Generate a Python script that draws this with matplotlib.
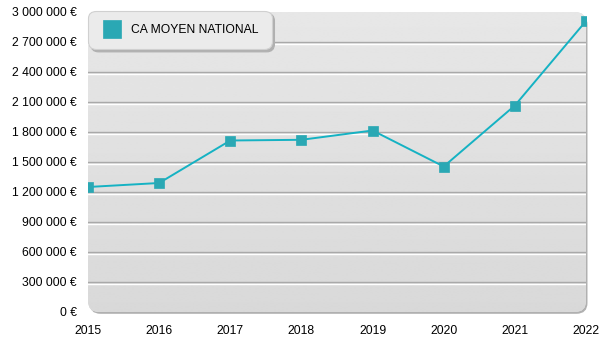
import numpy as np
import matplotlib.pyplot as plt
from matplotlib.patches import FancyBboxPatch
from matplotlib.ticker import FuncFormatter, MultipleLocator
import matplotlib.patheffects as pe

plt.rcParams['font.family'] = ['Liberation Sans', 'DejaVu Sans']

# data
years = [2015, 2016, 2017, 2018, 2019, 2020, 2021, 2022]
ca_moyen = [1250000, 1290000, 1715000, 1722000, 1815000, 1455000, 2065000, 2910000]
label = "CA MOYEN NATIONAL"
grid_levels = [300000, 600000, 900000, 1200000, 1500000, 1800000, 2100000, 2400000, 2700000]

fig = plt.figure(figsize=(6, 3.5), dpi=100)
ax = fig.add_axes([88 / 600, 38 / 350, 498 / 600, 300 / 350])
ax.set_xlim(2015, 2022)
ax.set_ylim(0, 3000000)
ax.patch.set_visible(False)
for s in ax.spines.values():
    s.set_visible(False)

# rounded plot area with a small shadow
aspect = 498 / 300
shadow = FancyBboxPatch((0.003, -0.006), 1, 1, boxstyle="round,pad=0,rounding_size=0.022",
                        mutation_aspect=aspect, transform=ax.transAxes,
                        facecolor='#b0b0b0', edgecolor='none', zorder=0, clip_on=False)
ax.add_patch(shadow)
area = FancyBboxPatch((0, 0), 1, 1, boxstyle="round,pad=0,rounding_size=0.022",
                      mutation_aspect=aspect, transform=ax.transAxes,
                      facecolor='#e0e0e0', edgecolor='none', zorder=0.5, clip_on=False)
ax.add_patch(area)
grad = np.linspace(0.85, 0.905, 256).reshape(-1, 1)
img = ax.imshow(grad, cmap='gray', vmin=0, vmax=1, extent=[2015, 2022, 0, 3000000],
                aspect='auto', origin='lower', zorder=0.6, interpolation='bilinear')
img.set_clip_path(area)

# gridlines: gray with white line under
for g in grid_levels:
    ax.axhline(g, color='#a9a9a9', linewidth=1, zorder=1,
               path_effects=[pe.SimpleLineShadow(offset=(0, -1.2), shadow_color='white',
                                                 alpha=1, rho=1), pe.Normal()])

ax.yaxis.set_major_locator(MultipleLocator(300000))
ax.xaxis.set_major_locator(MultipleLocator(1))
ax.yaxis.set_major_formatter(FuncFormatter(lambda v, p: f"{int(v):,}".replace(',', ' ') + ' €'))
ax.xaxis.set_major_formatter(FuncFormatter(lambda v, p: f"{int(v)}"))
ax.tick_params(axis='both', length=0, labelsize=8.7, colors='black')
ax.tick_params(axis='y', pad=8)
ax.tick_params(axis='x', pad=9)

ax.plot(years, ca_moyen, color='#15b2c3', linewidth=1.4, marker='s', markersize=7.5,
        markeredgewidth=0.5, markerfacecolor='#2aa8b4', markeredgecolor='#2aa8b4',
        zorder=3, label=label)

leg = ax.legend(loc='upper left', bbox_to_anchor=(0.0, 1.005), borderaxespad=0.0, fontsize=8.7,
                fancybox=True, shadow={'color': '#b0b0b0', 'alpha': 1},
                facecolor='#ebebeb', edgecolor='#d0d0d0', framealpha=1,
                handlelength=1.7, handletextpad=0.75, borderpad=1.1, markerscale=1.7)
leg.get_frame().set_linewidth(0.8)
leg.get_frame().set_boxstyle('round,pad=0,rounding_size=0.65')
for h in leg.legend_handles:
    h.set_linestyle('none')

fig.savefig('out.png', dpi=100)
